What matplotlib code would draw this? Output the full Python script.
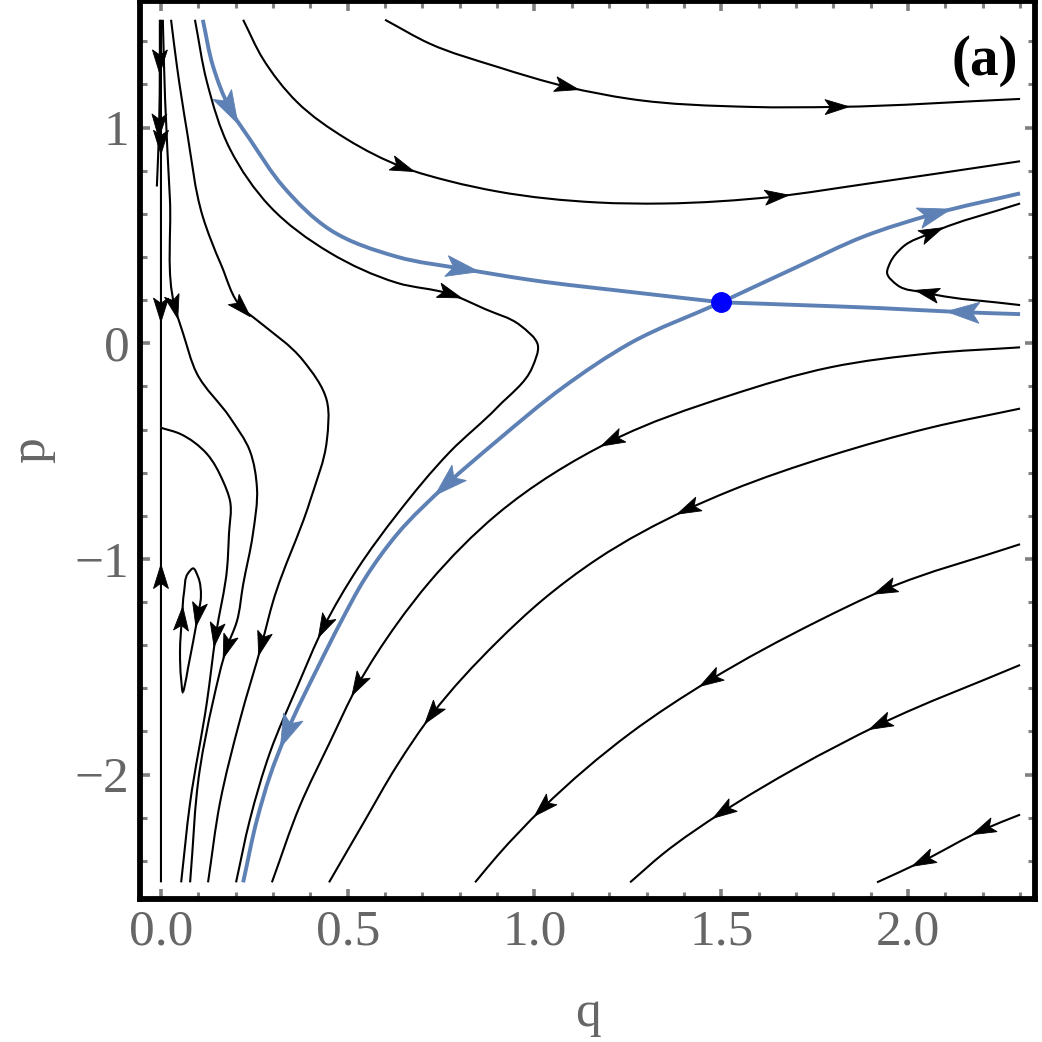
import numpy as np
import matplotlib
matplotlib.use('Agg')
import matplotlib.pyplot as plt
from matplotlib.path import Path
from matplotlib.patches import PathPatch, Polygon
from matplotlib.ticker import MultipleLocator

plt.rcParams['font.family'] = ['Liberation Serif', 'DejaVu Serif']

# Saddle point
saddle_q = [1.5]
saddle_p = [0.19]

# Separatrices (blue), points in flow order, arrows = point indices carrying an arrowhead
sep_left_q = [0.112, 0.139, 0.185, 0.238, 0.327, 0.452, 0.632, 0.808, 0.988, 1.256, 1.5]
sep_left_p = [1.5, 1.287, 1.086, 0.946, 0.727, 0.527, 0.401, 0.345, 0.294, 0.238, 0.19]
sep_left_arrows = [2, 7]

sep_right_q = [2.3, 2.147, 1.925, 1.711, 1.5]
sep_right_p = [0.135, 0.144, 0.163, 0.177, 0.19]
sep_right_arrows = [1]

sep_up_q = [1.5, 1.703, 1.880, 2.072, 2.3]
sep_up_p = [0.19, 0.354, 0.494, 0.601, 0.695]
sep_up_arrows = [3]

sep_down_q = [1.5, 1.256, 1.076, 0.900, 0.766, 0.632, 0.546, 0.482, 0.418, 0.337, 0.292, 0.257, 0.220]
sep_down_p = [0.19, 0.0, -0.205, -0.452, -0.653, -0.886, -1.091, -1.291, -1.510, -1.804, -2.005, -2.210, -2.5]
sep_down_arrows = [4, 9]

# Streamlines (black)
top_q = [0.600, 0.720, 0.900, 1.087, 1.256, 1.577, 1.810, 2.3]
top_p = [1.5, 1.389, 1.282, 1.189, 1.133, 1.096, 1.096, 1.133]
top_arrows = [3, 6]

second_q = [0.220, 0.273, 0.364, 0.498, 0.648, 0.774, 0.900, 1.167, 1.344, 1.649, 1.880, 2.3]
second_p = [1.5, 1.319, 1.119, 0.946, 0.816, 0.751, 0.704, 0.653, 0.648, 0.681, 0.737, 0.844]
second_arrows = [4, 9]

turn_q = [0.091, 0.123, 0.185, 0.292, 0.452, 0.632, 0.774, 0.867, 0.961, 1.009, 0.994, 0.900,
          0.774, 0.632, 0.527, 0.436, 0.367, 0.292, 0.238, 0.201]
turn_p = [1.5, 1.212, 0.900, 0.634, 0.420, 0.280, 0.228, 0.159, 0.084, -0.009, -0.112, -0.298,
          -0.503, -0.793, -1.044, -1.315, -1.585, -1.897, -2.210, -2.5]
turn_arrows = [6, 15]

near_q = [0.005, 0.011, 0.024, 0.037, 0.059, 0.096, 0.185, 0.238, 0.257, 0.246, 0.220, 0.203,
          0.177, 0.139, 0.104, 0.078]
near_p = [1.5, 1.133, 0.667, 0.168, 0.047, -0.140, -0.345, -0.499, -0.671, -0.886, -1.119, -1.291,
          -1.408, -1.664, -1.977, -2.5]
near_arrows = [3, 12]

bend_q = [0.027, 0.043, 0.070, 0.112, 0.161, 0.217, 0.257, 0.380, 0.444, 0.444, 0.399, 0.300,
          0.270, 0.212, 0.158, 0.126]
bend_p = [1.5, 1.282, 0.979, 0.587, 0.364, 0.163, 0.107, -0.079, -0.266, -0.452, -0.732, -1.198,
          -1.394, -1.744, -2.131, -2.5]
bend_arrows = [5, 12]

from_axis_q = [0.0, 0.051, 0.123, 0.166, 0.185, 0.182, 0.177, 0.147, 0.123, 0.078, 0.054]
from_axis_p = [-0.392, -0.420, -0.513, -0.639, -0.732, -0.886, -1.044, -1.352, -1.664, -2.131, -2.5]
from_axis_arrows = [7]

axis_short_q = [-0.003, -0.003, -0.005, -0.008, -0.011]
axis_short_p = [1.5, 1.305, 1.007, 0.853, 0.727]
axis_short_arrows = [1, 2]

axis_top_q = [0.0, 0.0, 0.0, 0.0]
axis_top_p = [1.5, 0.932, 0.154, -0.392]
axis_top_arrows = [1, 2]

axis_bot_q = [0.0, 0.0, 0.0]
axis_bot_p = [-2.5, -1.082, -0.392]
axis_bot_arrows = [1]

low1_q = [2.3, 2.059, 1.791, 1.523, 1.207, 0.900, 0.720, 0.632, 0.527, 0.452, 0.372, 0.297]
low1_p = [-0.019, -0.047, -0.112, -0.242, -0.452, -0.793, -1.105, -1.301, -1.585, -1.851, -2.145, -2.5]
low1_arrows = [4, 8]

low2_q = [2.3, 2.059, 1.791, 1.523, 1.411, 1.167, 1.020, 0.900, 0.726, 0.632, 0.541, 0.450]
low2_p = [-0.303, -0.392, -0.522, -0.685, -0.769, -1.002, -1.193, -1.385, -1.720, -1.958, -2.228, -2.5]
low2_arrows = [4, 8]

low3_q = [2.3, 1.938, 1.756, 1.470, 1.256, 1.023, 0.900, 0.841]
low3_p = [-0.932, -1.142, -1.291, -1.562, -1.809, -2.154, -2.378, -2.5]
low3_arrows = [1, 3, 5]

low4_q = [2.3, 1.925, 1.703, 1.505, 1.344, 1.256]
low4_p = [-1.492, -1.767, -1.967, -2.172, -2.368, -2.5]
low4_arrows = [1, 3]

low5_q = [2.3, 2.201, 2.040, 1.917]
low5_p = [-2.186, -2.256, -2.401, -2.5]
low5_arrows = [1, 2]

hairpin_q = [2.3, 2.051, 1.971, 1.944, 1.952, 1.987, 2.064, 2.3]
hairpin_p = [0.177, 0.233, 0.270, 0.326, 0.373, 0.448, 0.513, 0.648]
hairpin_arrows = [1, 6]

loop_q = [0.059, 0.054, 0.051, 0.056, 0.062, 0.072, 0.086, 0.099, 0.107, 0.099, 0.086, 0.072, 0.064, 0.059]
loop_p = [-1.618, -1.557, -1.431, -1.277, -1.152, -1.068, -1.044, -1.082, -1.175, -1.259, -1.385,
          -1.510, -1.585, -1.618]
loop_arrows = [3, 9]

xtick_vals = [0.0, 0.5, 1.0, 1.5, 2.0]
xtick_text = ['0.0', '0.5', '1.0', '1.5', '2.0']
ytick_vals = [-2, -1, 0, 1]
ytick_text = ['\u22122', '\u22121', '0', '1']

blue = '#5e81b5'
gray = '#666666'
px_scale = np.array([373.5, 215.7])  # rough pixels per data unit, only for spline spacing


# Tangents of a chord-length spline through the points
def tangents(q, p):
    pts = np.column_stack([q, p]).astype(float)
    n = len(pts)
    closed = np.allclose(pts[0], pts[-1])
    h = np.hypot(*(np.diff(pts, axis=0) * px_scale).T)
    m = np.zeros_like(pts)
    for i in range(n):
        if 0 < i < n - 1 or closed:
            if 0 < i < n - 1:
                a, b, ha, hb = pts[i - 1], pts[i + 1], h[i - 1], h[i]
            else:
                a, b, ha, hb = pts[n - 2], pts[1], h[-1], h[0]
            m[i] = ((pts[i] - a) / ha * hb + (b - pts[i]) / hb * ha) / (ha + hb)
        elif i == 0:
            m[i] = (pts[1] - pts[0]) / h[0]
        else:
            m[i] = (pts[-1] - pts[-2]) / h[-1]
    return pts, h, m


def smooth_path(q, p):
    pts, h, m = tangents(q, p)
    verts = [pts[0]]
    codes = [Path.MOVETO]
    for i in range(len(pts) - 1):
        verts += [pts[i] + m[i] * h[i] / 3, pts[i + 1] - m[i + 1] * h[i] / 3, pts[i + 1]]
        codes += [Path.CURVE4] * 3
    return Path(verts, codes)


# Arrowhead with notched back, centred on point i, pointing along the flow
def arrowhead(ax, q, p, i, length, width, color, z):
    pts, h, m = tangents(q, p)
    c = ax.transData.transform(pts[i])
    d = ax.transData.transform(pts[i] + m[i] * 5) - c
    d = d / np.hypot(d[0], d[1])
    n = np.array([-d[1], d[0]])
    tip = c + d * length * 0.5
    back = c - d * length * 0.5
    notch = back + d * length * 0.22
    corners = np.array([tip, back + n * width / 2, notch, back - n * width / 2])
    corners = ax.transData.inverted().transform(corners)
    ax.add_patch(Polygon(corners, closed=True, facecolor=color, edgecolor=color,
                         linewidth=0.6, zorder=z))


fig = plt.figure(figsize=(10.42, 10.42), dpi=100)
ax = fig.add_axes([0.1344, 0.1377, 0.8589, 0.8609])
ax.set_xlim(-0.056, 2.34)
ax.set_ylim(-2.575, 1.585)

black_lines = [
    (top_q, top_p, top_arrows), (second_q, second_p, second_arrows),
    (turn_q, turn_p, turn_arrows), (near_q, near_p, near_arrows),
    (bend_q, bend_p, bend_arrows), (from_axis_q, from_axis_p, from_axis_arrows),
    (axis_short_q, axis_short_p, axis_short_arrows), (axis_top_q, axis_top_p, axis_top_arrows),
    (axis_bot_q, axis_bot_p, axis_bot_arrows), (low1_q, low1_p, low1_arrows),
    (low2_q, low2_p, low2_arrows), (low3_q, low3_p, low3_arrows),
    (low4_q, low4_p, low4_arrows), (low5_q, low5_p, low5_arrows),
    (hairpin_q, hairpin_p, hairpin_arrows), (loop_q, loop_p, loop_arrows),
]
blue_lines = [
    (sep_left_q, sep_left_p, sep_left_arrows), (sep_right_q, sep_right_p, sep_right_arrows),
    (sep_up_q, sep_up_p, sep_up_arrows), (sep_down_q, sep_down_p, sep_down_arrows),
]

for q, p, arrows in black_lines:
    ax.add_patch(PathPatch(smooth_path(q, p), fill=False, edgecolor='black', linewidth=1.5, zorder=2))
    for i in arrows:
        arrowhead(ax, q, p, i, 24, 15, 'black', 4)

for q, p, arrows in blue_lines:
    ax.add_patch(PathPatch(smooth_path(q, p), fill=False, edgecolor=blue, linewidth=2.8, zorder=3))
    for i in arrows:
        arrowhead(ax, q, p, i, 33, 21, blue, 5)

ax.plot(saddle_q, saddle_p, 'o', color='#0000ff', markersize=14, zorder=6)

# Frame and ticks
for s in ax.spines.values():
    s.set_linewidth(4.2)
    s.set_color('black')
ax.set_xticks(xtick_vals)
ax.set_xticklabels(xtick_text)
ax.set_yticks(ytick_vals)
ax.set_yticklabels(ytick_text)
ax.xaxis.set_minor_locator(MultipleLocator(0.1))
ax.yaxis.set_minor_locator(MultipleLocator(0.2))
ax.tick_params(which='major', direction='in', length=7, width=2.6, color='#808080',
               top=True, right=True, labelsize=37, labelcolor=gray, pad=7.5)
ax.tick_params(which='minor', direction='in', length=5, width=2.2, color='#808080',
               top=True, right=True)
ax.set_xlabel('q', fontsize=37, color=gray, labelpad=25)
ax.set_ylabel('p', fontsize=37, color=gray, labelpad=14)

ax.text(0.981, 0.918, '(a)', transform=ax.transAxes, ha='right', va='baseline',
        fontsize=41, fontweight='bold', color='black')

fig.savefig('out.png', dpi=100)
